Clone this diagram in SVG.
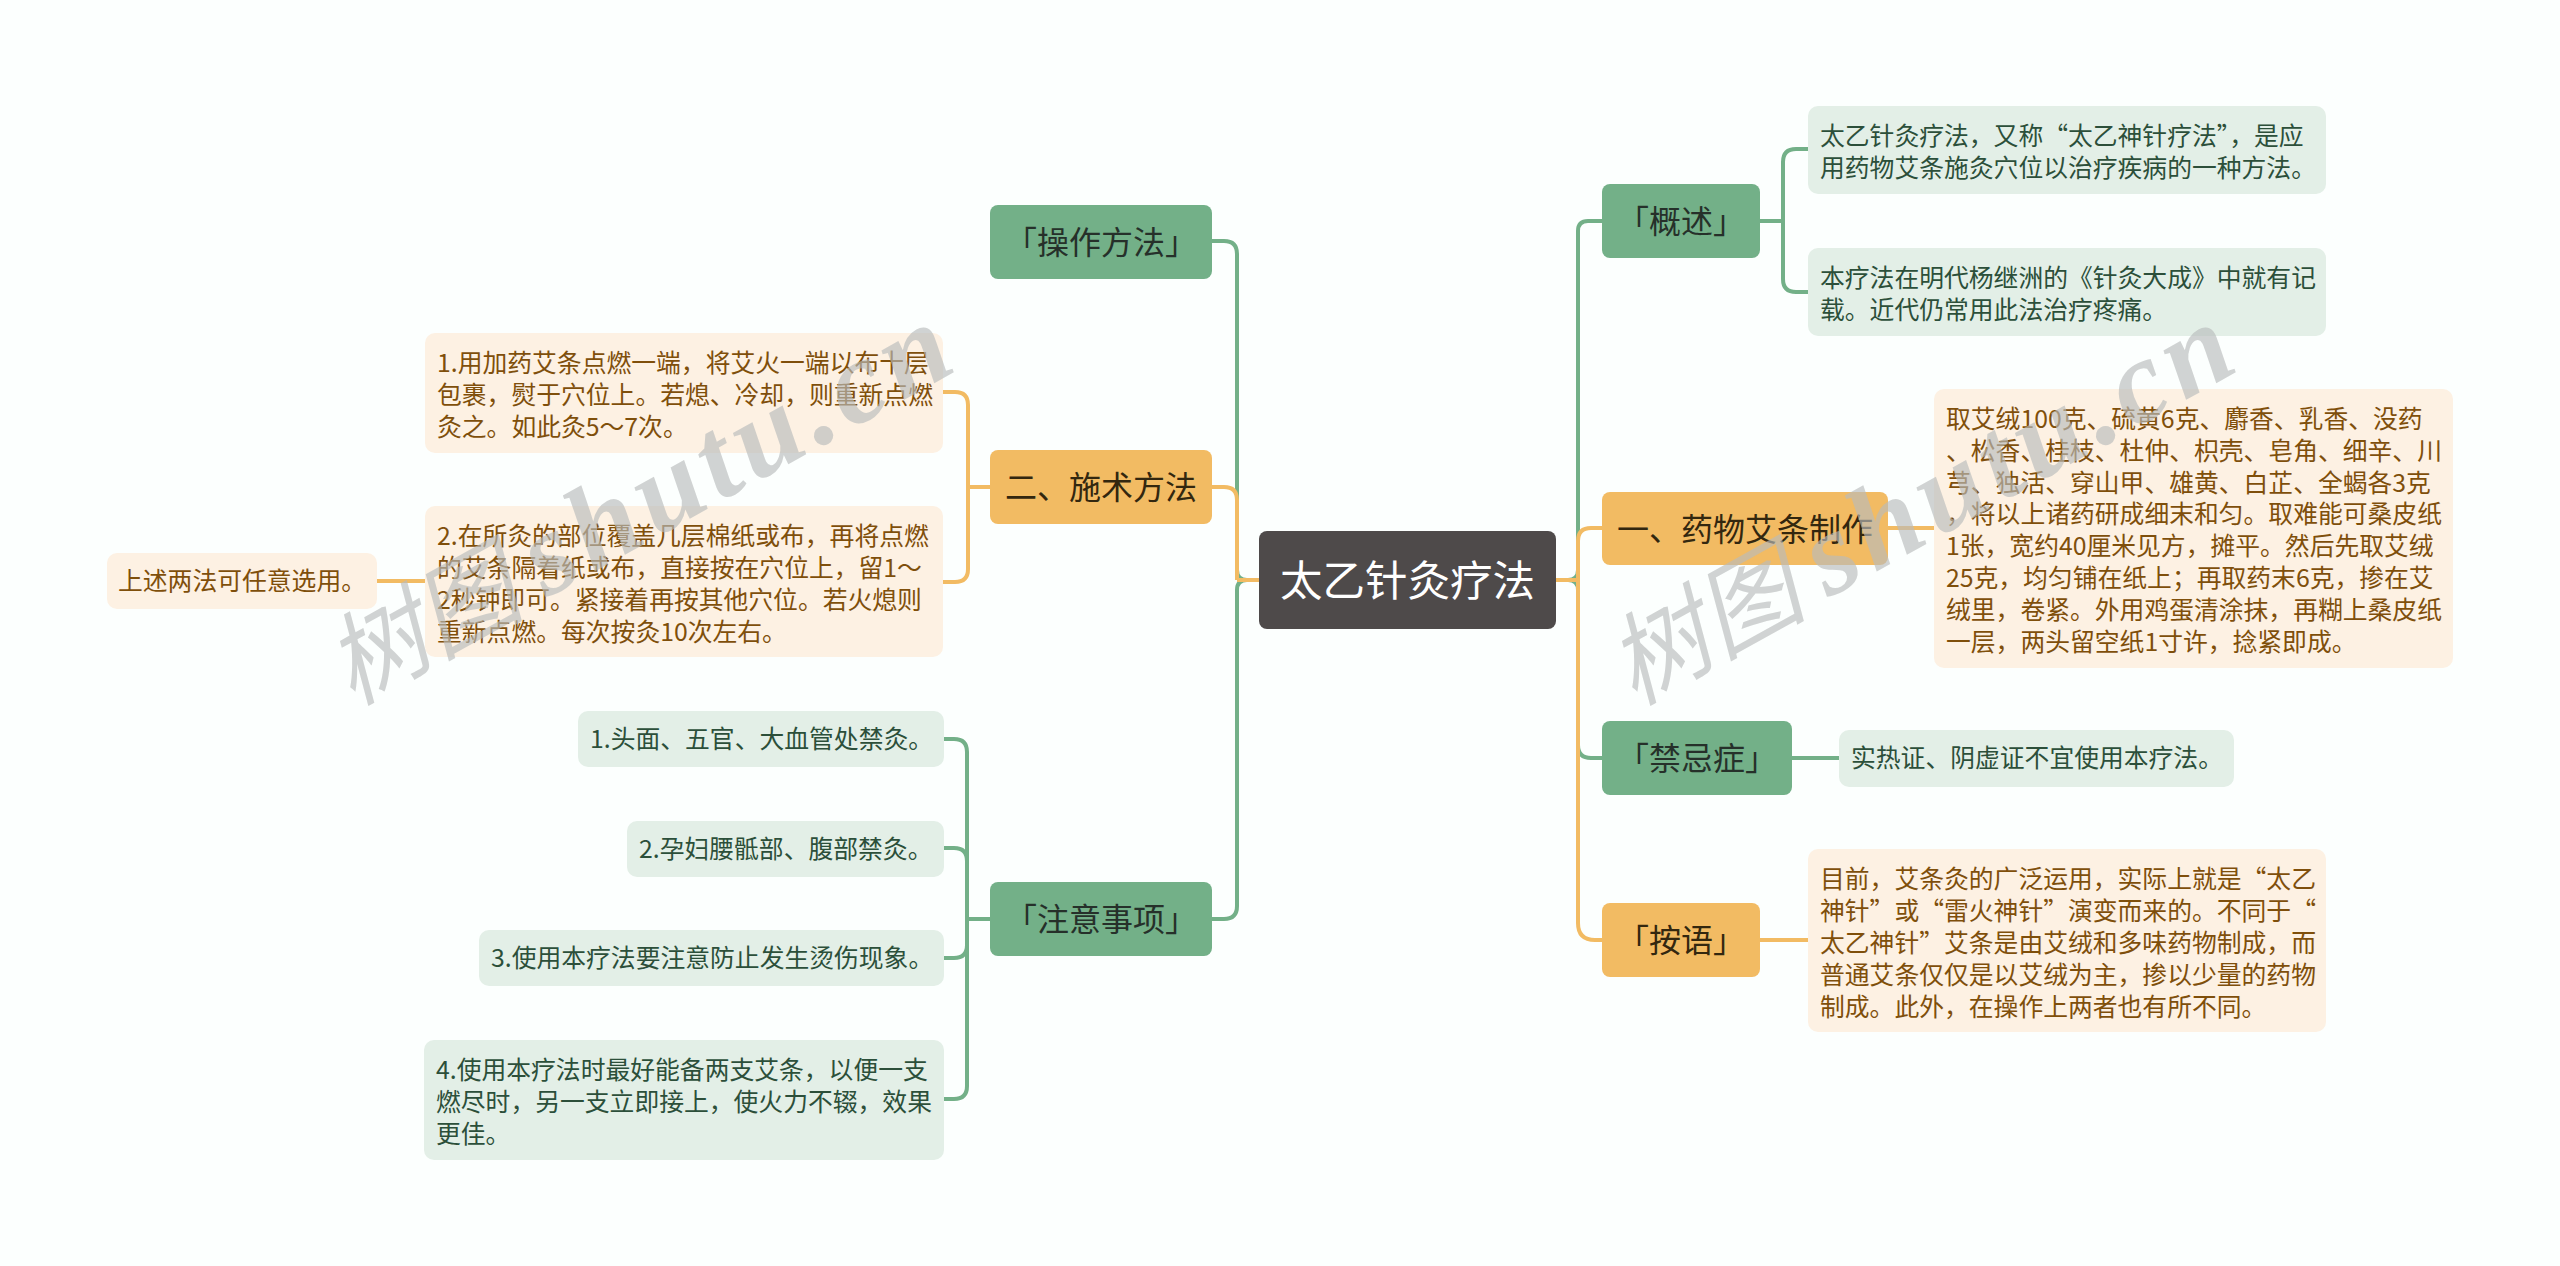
<svg xmlns="http://www.w3.org/2000/svg" width="2560" height="1266" viewBox="0 0 2560 1266">
<style>
text{font-family:"Noto Sans CJK SC","Noto Sans",sans-serif}
.bg{fill:#fcfffe}
.g{fill:#73b088}.o{fill:#f2bb63}.lg{fill:#e3efe7}.lo{fill:#fdf1e3}.c{fill:#4e4a4a}
.t{font-size:32px;fill:#26302a}.to{font-size:32px;fill:#33270f}
.tg{font-size:24.8px;fill:#2c4f3a}.tw{font-size:24.8px;fill:#7f4f0b}
.m{font-size:42.5px;fill:#fff}
.ln{fill:none;stroke-width:4}.lnG{stroke:#73b088}.lnO{stroke:#f2bb63}
.wm{font-size:100px;fill:#b8bcbc;fill-opacity:.65;font-family:"Noto Sans CJK SC","Liberation Serif",serif;font-style:italic}
.wm2{font-family:"Liberation Serif",serif;font-size:118px;font-weight:bold;letter-spacing:7px}
</style>
<rect class="bg" width="2560" height="1266"/>
<g id="connectors">
<path class="ln lnG" d="M1556 580H1568Q1578 580 1578 570V231Q1578 221 1588 221H1602"/>
<path class="ln lnG" d="M1556 580H1568Q1578 580 1578 590V745Q1578 758 1591 758H1602"/>
<path class="ln lnO" d="M1556 580H1578M1602 528H1591Q1578 528 1578 541V923Q1578 940 1595 940H1602"/>
<path class="ln lnG" d="M1760 221H1783M1808 149H1796Q1783 149 1783 162V279Q1783 292 1796 292H1808"/>
<path class="ln lnO" d="M1888 528H1934"/>
<path class="ln lnG" d="M1792 758H1839"/>
<path class="ln lnO" d="M1760 940H1808"/>
<path class="ln lnG" d="M1259 580H1247Q1237 580 1237 570V254Q1237 241 1224 241H1212"/>
<path class="ln lnG" d="M1259 580H1247Q1237 580 1237 590V906Q1237 919 1224 919H1212"/>
<path class="ln lnO" d="M1259 580H1237M1237 580V500Q1237 487 1224 487H1212"/>
<path class="ln lnO" d="M990 487H968M943 392H955Q968 392 968 405V569Q968 582 955 582H943"/>
<path class="ln lnO" d="M425 581H377"/>
<path class="ln lnG" d="M990 919H967M944 739H954Q967 739 967 752V1086Q967 1099 954 1099H944M944 848H954Q967 848 967 861M944 958H954Q967 958 967 945"/>
</g>
<g id="center"><rect class="c" x="1259" y="531" width="297" height="98" rx="8"/><text class="m" x="1280" y="596">太乙针灸疗法</text></g>
<g id="n-gaishu"><rect class="g" x="1602" y="184" width="158" height="74" rx="8"/><text class="t" x="1617" y="233">「概述」</text></g>
<g id="n-gaishu-1"><rect class="lg" x="1808" y="106" width="518" height="88" rx="10"/><text class="tg" x="1820" y="145">太乙针灸疗法，又称“太乙神针疗法”，是应</text><text class="tg" x="1820" y="177">用药物艾条施灸穴位以治疗疾病的一种方法。</text></g>
<g id="n-gaishu-2"><rect class="lg" x="1808" y="248" width="518" height="88" rx="10"/><text class="tg" x="1820" y="287">本疗法在明代杨继洲的《针灸大成》中就有记</text><text class="tg" x="1820" y="319">载。近代仍常用此法治疗疼痛。</text></g>
<g id="n-zhizuo"><rect class="o" x="1602" y="492" width="286" height="73" rx="8"/><text class="to" x="1617" y="541">一、药物艾条制作</text></g>
<g id="n-zhizuo-1"><rect class="lo" x="1934" y="389" width="519" height="279" rx="10"/>
<text class="tw" x="1946" y="428">取艾绒100克、硫黄6克、麝香、乳香、没药</text>
<text class="tw" x="1946" y="460">、松香、桂枝、杜仲、枳壳、皂角、细辛、川</text>
<text class="tw" x="1946" y="492">芎、独活、穿山甲、雄黄、白芷、全蝎各3克</text>
<text class="tw" x="1946" y="523">，将以上诸药研成细末和匀。取难能可桑皮纸</text>
<text class="tw" x="1946" y="555">1张，宽约40厘米见方，摊平。然后先取艾绒</text>
<text class="tw" x="1946" y="587">25克，均匀铺在纸上；再取药末6克，掺在艾</text>
<text class="tw" x="1946" y="619">绒里，卷紧。外用鸡蛋清涂抹，再糊上桑皮纸</text>
<text class="tw" x="1946" y="651">一层，两头留空纸1寸许，捻紧即成。</text></g>
<g id="n-jinji"><rect class="g" x="1602" y="721" width="190" height="74" rx="8"/><text class="t" x="1617" y="770">「禁忌症」</text></g>
<g id="n-jinji-1"><rect class="lg" x="1839" y="730" width="395" height="57" rx="10"/><text class="tg" x="1851" y="767">实热证、阴虚证不宜使用本疗法。</text></g>
<g id="n-anyu"><rect class="o" x="1602" y="903" width="158" height="74" rx="8"/><text class="to" x="1617" y="952">「按语」</text></g>
<g id="n-anyu-1"><rect class="lo" x="1808" y="849" width="518" height="183" rx="10"/>
<text class="tw" x="1820" y="888">目前，艾条灸的广泛运用，实际上就是“太乙</text>
<text class="tw" x="1820" y="920">神针”或“雷火神针”演变而来的。不同于“</text>
<text class="tw" x="1820" y="952">太乙神针”艾条是由艾绒和多味药物制成，而</text>
<text class="tw" x="1820" y="984">普通艾条仅仅是以艾绒为主，掺以少量的药物</text>
<text class="tw" x="1820" y="1016">制成。此外，在操作上两者也有所不同。</text></g>
<g id="n-caozuo"><rect class="g" x="990" y="205" width="222" height="74" rx="8"/><text class="t" x="1005" y="254">「操作方法」</text></g>
<g id="n-shishu"><rect class="o" x="990" y="450" width="222" height="74" rx="8"/><text class="to" x="1005" y="499">二、施术方法</text></g>
<g id="n-shishu-1"><rect class="lo" x="425" y="333" width="518" height="120" rx="10"/>
<text class="tw" x="437" y="372">1.用加药艾条点燃一端，将艾火一端以布十层</text>
<text class="tw" x="437" y="404">包裹，熨于穴位上。若熄、冷却，则重新点燃</text>
<text class="tw" x="437" y="436">灸之。如此灸5～7次。</text></g>
<g id="n-shishu-2"><rect class="lo" x="425" y="506" width="518" height="151" rx="10"/>
<text class="tw" x="437" y="545">2.在所灸的部位覆盖几层棉纸或布，再将点燃</text>
<text class="tw" x="437" y="577">的艾条隔着纸或布，直接按在穴位上，留1～</text>
<text class="tw" x="437" y="609">2秒钟即可。紧接着再按其他穴位。若火熄则</text>
<text class="tw" x="437" y="641">重新点燃。每次按灸10次左右。</text></g>
<g id="n-shishu-3"><rect class="lo" x="107" y="553" width="270" height="56" rx="10"/><text class="tw" x="118" y="590">上述两法可任意选用。</text></g>
<g id="n-zhuyi"><rect class="g" x="990" y="882" width="222" height="74" rx="8"/><text class="t" x="1005" y="931">「注意事项」</text></g>
<g id="n-zhuyi-1"><rect class="lg" x="578" y="711" width="366" height="56" rx="10"/><text class="tg" x="590" y="748">1.头面、五官、大血管处禁灸。</text></g>
<g id="n-zhuyi-2"><rect class="lg" x="627" y="821" width="317" height="56" rx="10"/><text class="tg" x="639" y="858">2.孕妇腰骶部、腹部禁灸。</text></g>
<g id="n-zhuyi-3"><rect class="lg" x="479" y="930" width="465" height="56" rx="10"/><text class="tg" x="491" y="967">3.使用本疗法要注意防止发生烫伤现象。</text></g>
<g id="n-zhuyi-4"><rect class="lg" x="424" y="1040" width="520" height="120" rx="10"/>
<text class="tg" x="436" y="1079">4.使用本疗法时最好能备两支艾条，以便一支</text>
<text class="tg" x="436" y="1111">燃尽时，另一支立即接上，使火力不辍，效果</text>
<text class="tg" x="436" y="1143">更佳。</text></g>
<g id="watermarks">
<text class="wm" transform="translate(352 706) rotate(-29)">树图 <tspan class="wm2">shutu.cn</tspan></text>
<text class="wm" transform="translate(1634 706) rotate(-29)">树图 <tspan class="wm2">shutu.cn</tspan></text>
</g>
</svg>
